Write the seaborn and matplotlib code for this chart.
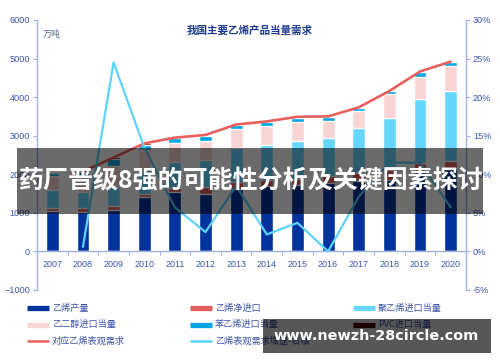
import matplotlib
matplotlib.use("Agg")
import matplotlib.pyplot as plt
from matplotlib.patches import Rectangle
from matplotlib.lines import Line2D
import numpy as np
import pandas as pd
import seaborn as sns

years = ['2007', '2008', '2009', '2010', '2011', '2012', '2013',
         '2014', '2015', '2016', '2017', '2018', '2019', '2020']
production = [1045, 1025, 1070, 1420, 1530, 1487, 1623, 1704, 1715, 1781, 1822, 1841, 2052, 2160]
net_import = [90, 110, 100, 80, 105, 170, 170, 150, 150, 170, 216, 260, 250, 180]
pe_equiv = [460, 400, 515, 620, 695, 723, 880, 906, 1000, 990, 1150, 1370, 1640, 1830]
meg_equiv = [350, 400, 520, 520, 490, 480, 495, 490, 490, 450, 440, 600, 590, 630]
sm_equiv = [90, 120, 180, 130, 110, 130, 100, 100, 105, 100, 100, 80, 110, 105]
pvc_equiv = [15, 15, 50, 30, 20, 30, 20, 20, 30, 10, 10, 10, 20, 15]

line_years = years[1:]
demand = [2070, 2435, 2800, 2950, 3020, 3290, 3370, 3490, 3500, 3735, 4160, 4665, 4920]
growth = [0.6, 24.5, 13.5, 5.7, 2.5, 8.5, 2.2, 3.7, 0.0, 7.1, 11.5, 11.5, 5.7]

labels = ['乙烯产量', '乙烯净进口', '聚乙烯进口当量', '乙二醇进口当量',
          '苯乙烯进口当量', 'PVC进口当量', '对应乙烯表观需求', '乙烯表观需求增速-右轴']
colors = ['#00339c', '#e35f5f', '#66d6ff', '#f9d4d4', '#00a6e4', '#4a0505', '#e8605e', '#5fd2fb']

sns.set_style('white')
plt.rcParams['font.family'] = ['Liberation Sans', 'Noto Sans CJK SC', 'DejaVu Sans']
cjk = ['Noto Sans CJK SC', 'DejaVu Sans']
tick_col = '#3d55a8'
spine_col = '#9fb2de'

fig = plt.figure(figsize=(5.0, 3.62), dpi=100)
ax = fig.add_axes([0.074, 0.199, 0.858, 0.7458])

layers = [production, net_import, pe_equiv, meg_equiv, sm_equiv, pvc_equiv]
cum = np.cumsum(np.array(layers), axis=0)
df = pd.DataFrame({'year': years})
for i in range(len(layers) - 1, -1, -1):
    df['v'] = cum[i]
    sns.barplot(data=df, x='year', y='v', color=colors[i], saturation=1,
                width=0.42, ax=ax, zorder=2)

pos = [years.index(y) for y in line_years]
sns.lineplot(x=pos, y=demand, color=colors[6], lw=1.9, ax=ax, zorder=5)

ax2 = ax.twinx()
sns.lineplot(x=pos, y=growth, color=colors[7], lw=1.6, ax=ax2, zorder=5)

ax.set_xlim(-0.5, len(years) - 0.5)
ax.set_ylim(-1000, 6000)
ax2.set_ylim(-5, 30)
ax.set_yticks(range(-1000, 6001, 1000))
ax2.set_yticks(range(-5, 31, 5))
ax2.set_yticklabels([f'{v}%' for v in range(-5, 31, 5)])
ax.set_xlabel('')
ax.set_ylabel('')
ax2.set_ylabel('')

for a in (ax, ax2):
    a.spines['top'].set_visible(False)
    for s in ('left', 'right', 'bottom'):
        a.spines[s].set_color(spine_col)
        a.spines[s].set_linewidth(1.0)
ax2.spines['bottom'].set_visible(False)
ax.spines['right'].set_visible(False)
ax2.spines['left'].set_visible(False)
ax.spines['bottom'].set_position(('data', 0))

ax.tick_params(axis='y', direction='out', length=3, width=0.8, color=spine_col,
               labelsize=6.6, labelcolor=tick_col, pad=2, left=True)
ax2.tick_params(axis='y', direction='out', length=3, width=0.8, color=spine_col,
                labelsize=6.6, labelcolor=tick_col, pad=2, right=True)
ax.tick_params(axis='x', which='major', length=0, labelsize=6.5,
               labelcolor=tick_col, pad=6)
ax.set_xticks(np.arange(-0.5, len(years), 1.0), minor=True)
ax.tick_params(axis='x', which='minor', direction='out', length=3, width=0.8,
               color=spine_col, bottom=True)

ax.set_title('')
fig.text(0.5, 0.915, '我国主要乙烯产品当量需求', ha='center', va='center',
         fontsize=7.6, fontweight='bold', color='#1c3a8e', family=cjk)
fig.text(0.086, 0.905, '万吨', ha='left', va='center', fontsize=6.5,
         color='#5a6a8c', family=cjk)

# legend
W, H = 500.0, 362.0
for i, (lab, col) in enumerate(zip(labels, colors)):
    c, r = i % 3, i // 3
    x0 = 27 + c * 163
    yy = 1 - (308 + r * 16.5) / H
    lw = 3.8 if i < 6 else 1.8
    fig.add_artist(Line2D([x0 / W, (x0 + 22) / W], [yy, yy], color=col, lw=lw,
                          solid_capstyle='butt', transform=fig.transFigure))
    fig.text((x0 + 25) / W, yy, lab, ha='left', va='center', fontsize=6.6,
             color=tick_col, family=cjk)

# overlay banner
fig.patches.append(Rectangle((17 / W, 1 - 214 / H), 466 / W, 66 / H,
                             transform=fig.transFigure, facecolor='black',
                             alpha=0.58, edgecolor='none', zorder=20))
fig.text(0.5, 1 - 181 / H, '药厂晋级8强的可能性分析及关键因素探讨', ha='center',
         va='center', fontsize=18, fontweight='bold', color='white',
         family=cjk, zorder=21)

# watermark
fig.patches.append(Rectangle((263 / W, 1 - 353 / H), 228 / W, 34 / H,
                             transform=fig.transFigure, facecolor='black',
                             alpha=0.66, edgecolor='none', zorder=20))
fig.text(376.5 / W, 1 - 336 / H, 'www.newzh-28circle.com', ha='center',
         va='center', fontsize=10.4, fontweight='bold', color='white',
         family=['DejaVu Sans'], zorder=21)

fig.savefig('out.png', dpi=100, facecolor='white')
